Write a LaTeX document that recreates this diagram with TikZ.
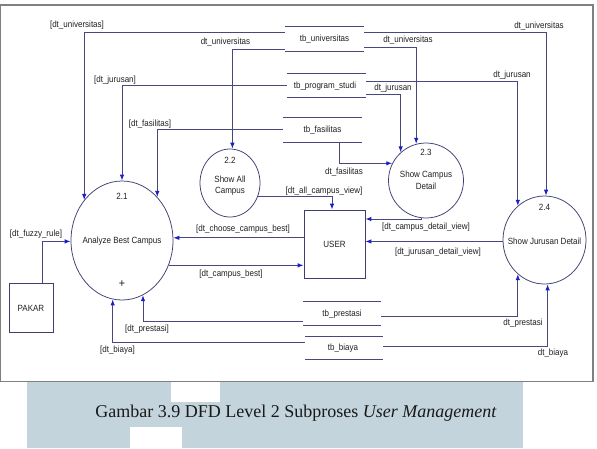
\documentclass[tikz,border=0pt]{standalone}
\usepackage{fontspec}
\setmainfont{Liberation Sans}
\newfontfamily\capfont{Liberation Serif}
\usetikzlibrary{shapes.geometric,arrows.meta}
\definecolor{lineblue}{HTML}{48487E}
\definecolor{arrblue}{HTML}{1E1EC8}
\definecolor{shapeline}{HTML}{3E3E74}
\definecolor{txt}{HTML}{202020}
\definecolor{wm}{HTML}{C4D4DC}
\definecolor{framegray}{HTML}{808080}
\begin{document}
\begin{tikzpicture}[x=1pt,y=-1pt,
  every node/.style={inner sep=0pt},
  tx/.style={font=\fontsize{9}{10.5}\selectfont, text=txt, xscale=0.89},
  proc/.style={ellipse, draw=shapeline, line width=0.75pt},
  ent/.style={rectangle, draw=shapeline, line width=0.75pt},
  storeline/.style={draw=lineblue, line width=0.95pt},
  store/.style={minimum width=79pt, minimum height=23pt,
    append after command={(\tikzlastnode.north west) edge[storeline] (\tikzlastnode.north east)
      (\tikzlastnode.south west) edge[storeline] (\tikzlastnode.south east)}},
  flow/.style={draw=lineblue, line width=0.95pt, -{Latex[length=6pt,width=4.5pt,color=arrblue]}},
  captxt/.style={font=\capfont\fontsize{18}{21}\selectfont, text=black!90}
]
\useasboundingbox (0,0) rectangle (597,448);
\fill[white] (0,0) rectangle (597,448);
% watermark
\fill[wm] (27,382) rectangle (523,448);
\fill[white] (171,382) rectangle (220,402);
\fill[white] (130,427) rectangle (182,448);
% frame
\draw[framegray, line width=1.2pt] (0.6,5) rectangle (593,381.5);
\node[captxt] (cap) at (296,413) {Gambar 3.9 DFD Level 2 Subproses \textit{User Management}};

% processes
\node[proc, minimum width=102pt, minimum height=119pt] (p21) at (122,240.5) {};
\node[tx] (p21n) at (122,196) {2.1};
\node[tx] (p21t) at (122,241) {Analyze Best Campus};
\node[tx, font=\fontsize{12}{14}\selectfont] (p21p) at (122,284) {+};
\node[proc, minimum width=60pt, minimum height=68pt] (p22) at (230,183) {};
\node[tx] (p22n) at (230,160) {2.2};
\node[tx] (p22a) at (230,179) {Show All};
\node[tx] (p22b) at (230,191) {Campus};
\node[proc, minimum width=75pt, minimum height=75pt] (p23) at (426,180.5) {};
\node[tx] (p23n) at (426,152) {2.3};
\node[tx] (p23a) at (426,175) {Show Campus};
\node[tx] (p23b) at (426,186.5) {Detail};
\node[proc, minimum width=83pt, minimum height=88pt] (p24) at (544.5,240) {};
\node[tx] (p24n) at (544.5,207) {2.4};
\node[tx] (p24t) at (544.5,241) {Show Jurusan Detail};

% entities
\node[ent, minimum width=61pt, minimum height=68pt] (user) at (334.5,244) {};
\node[tx] (usert) at (334.5,244) {USER};
\node[ent, minimum width=44pt, minimum height=49pt] (pakar) at (31,307.5) {};
\node[tx] (pakart) at (31,308) {PAKAR};

% stores
\node[store, minimum height=24pt] (su) at (324.5,39) {};
\node[tx] (sut) at (324.5,39.5) {tb\_universitas};
\node[store] (sp) at (326.5,85.5) {};
\node[tx] (spt) at (325,86) {tb\_program\_studi};
\node[store, minimum height=24pt] (sf) at (322.5,130) {};
\node[tx] (sft) at (322.5,130.5) {tb\_fasilitas};
\node[store, minimum width=78pt] (spr) at (342,313.5) {};
\node[tx] (sprt) at (342,314) {tb\_prestasi};
\node[store, minimum width=78pt, minimum height=22pt] (sb) at (344,348) {};
\node[tx] (sbt) at (343,348.5) {tb\_biaya};

% flows
\draw[flow] ([yshift=7pt]su.west) -| (p21.133.7);
\draw[flow] ([yshift=-10pt]su.west) -| (p22.86.6);
\draw[flow] ([yshift=0.5pt]sp.west) -| (p21.north);
\draw[flow] ([yshift=1pt]sf.west) -| (p21.51.05);
\draw[flow] ([yshift=-8pt]su.east) -| (p23.105.7);
\draw[flow] ([yshift=7pt]su.east) -| (p24.88);
\draw[flow] ([yshift=-8.5pt]sp.east) -| (p23.132.5);
\draw[flow] ([yshift=4.5pt]sp.east) -| (p24.128);
\draw[flow] ([xshift=16.5pt]sf.south) |- (p23.153.9);
\draw[flow] ([yshift=-7.5pt]spr.west) -| (p21.-69.9);
\draw[flow] ([yshift=6pt]sb.west) -| (p21.261.3);
\draw[flow] ([yshift=-2.5pt]spr.east) -| (p24.232);
\draw[flow] ([yshift=2pt]sb.east) -| (p24.274.6);
\draw[flow] (p22.-25.1) -| ([xshift=-2.5pt]user.north);
\draw[flow] (user.west |- p21.3.9) -- (p21.3.9);
\draw[flow] (p21.-28.4) -- (p21.-28.4 -| user.west);
\draw[flow] (p23.263.9) |- ([yshift=25pt]user.east);
\draw[flow] (p24.182.8) -- (p24.182.8 -| user.east);
\draw[flow] ([xshift=11pt]pakar.north) |- (p21.181.7);

% labels
\node[tx] (l1) at (77,25) {[dt\_universitas]};
\node[tx] (l2) at (225.5,42) {dt\_universitas};
\node[tx] (l3) at (115,80) {[dt\_jurusan]};
\node[tx] (l4) at (150,124) {[dt\_fasilitas]};
\node[tx] (l5) at (408,40) {dt\_universitas};
\node[tx] (l6) at (539,26) {dt\_universitas};
\node[tx] (l7) at (393,88) {dt\_jurusan};
\node[tx] (l8) at (512,75) {dt\_jurusan};
\node[tx] (l9) at (344,172) {dt\_fasilitas};
\node[tx] (l10) at (324,191) {[dt\_all\_campus\_view]};
\node[tx] (l11) at (243,229) {[dt\_choose\_campus\_best]};
\node[tx] (l12) at (231,274) {[dt\_campus\_best]};
\node[tx] (l13) at (426,227) {[dt\_campus\_detail\_view]};
\node[tx] (l14) at (438,252) {[dt\_jurusan\_detail\_view]};
\node[tx] (l15) at (36,234) {[dt\_fuzzy\_rule]};
\node[tx] (l16) at (147,329) {[dt\_prestasi]};
\node[tx] (l17) at (117.5,350) {[dt\_biaya]};
\node[tx] (l18) at (523,323) {dt\_prestasi};
\node[tx] (l19) at (553,353) {dt\_biaya};
\end{tikzpicture}
\end{document}
